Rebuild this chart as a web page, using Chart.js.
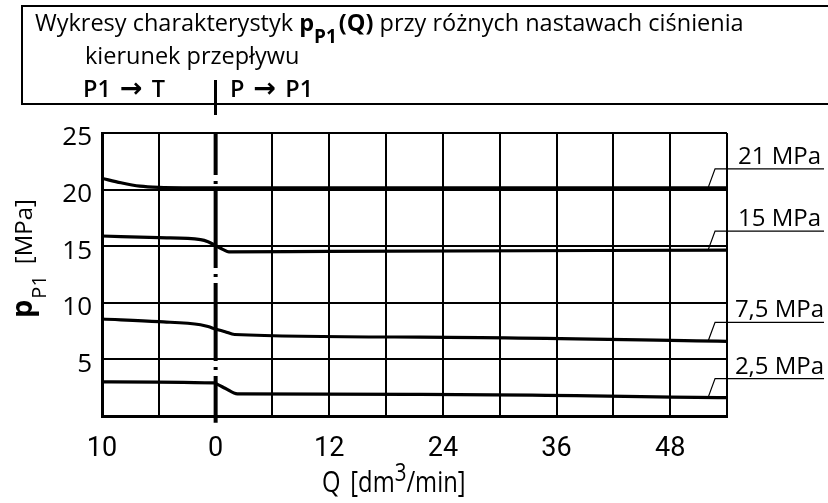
<!DOCTYPE html>
<html lang="pl">
<head>
<meta charset="utf-8">
<title>Wykresy charakterystyk pP1(Q)</title>
<script src="https://cdn.jsdelivr.net/npm/chart.js@4.4.1/dist/chart.umd.min.js"></script>
<style>
    html, body { margin: 0; padding: 0; background: #fff; }
    #wrap { position: relative; width: 828px; height: 503px; overflow: hidden; font-family: 'Open Sans', sans-serif; color: #000; }
    #chart { position: absolute; left: 0; top: 0; }
    #box { position: absolute; left: 21px; top: 5px; width: 820px; height: 100px; box-sizing: border-box; border: 2px solid #000; border-right: none; }
    .hl { position: absolute; white-space: nowrap; font-size: 23.5px; line-height: 24px; }
    .hl b { font-weight: 700; }
    .sub { position: relative; top: 12px; font-size: 19px; margin-right: 2px; }
    .arr { font-family: 'DejaVu Sans', sans-serif; font-size: 27px; font-weight: 700; margin: 0 3px; }
    #l1 { left: 35px; top: 10px; }
    #l2 { left: 85px; top: 43px; }
    #l3a { left: 83px; top: 76px; font-weight: 600; }
    #l3b { left: 230px; top: 76px; font-weight: 600; }
    #sep { position: absolute; left: 214px; top: 80px; width: 3px; height: 35px; background: #000; }
</style>
</head>
<body>
<div id="wrap">
    <canvas id="chart" width="828" height="503"></canvas>
    <div id="box"></div>
    <div class="hl" id="l1">Wykresy charakterystyk <b>p<span class="sub">P1</span>(Q)</b> przy różnych nastawach ciśnienia</div>
    <div class="hl" id="l2">kierunek przepływu</div>
    <div class="hl" id="l3a">P1 <span class="arr">→</span> T</div>
    <div id="sep"></div>
    <div class="hl" id="l3b">P <span class="arr">→</span> P1</div>
</div>
<script>
// x axis runs in grid units of 6; left of 0 is the P1 -> T side
const xTickValues = [-12, 0, 12, 24, 36, 48];
const xTickLabels = ['10', '0', '12', '24', '36', '48'];

const seriesLabels = ['21 MPa', '15 MPa', '7,5 MPa', '2,5 MPa'];

const q21 = [-12, -10, -8, -6, 0, 54];
const p21 = [21.0, 20.6, 20.3, 20.2, 20.15, 20.15];

const q15 = [-12, -6, -1.6, -0.8, 0, 0.8, 1.4, 12, 54];
const p15 = [15.9, 15.75, 15.58, 15.4, 15.05, 14.7, 14.5, 14.55, 14.65];

const q75 = [-12, -6, -1.6, -0.8, 0, 1, 2, 21.6, 54];
const p75 = [8.57, 8.33, 8.06, 7.9, 7.68, 7.45, 7.2, 6.97, 6.6];

const q25 = [-12, -0.2, 0.3, 1, 2.3, 21.6, 54];
const p25 = [3.02, 2.92, 2.75, 2.45, 1.95, 1.91, 1.62];

// dash-dot divider at Q = 0
const dividerQ = [0, 0];
const dividerP = [25, -0.6];

const leaderQ = 52;

const curves = [
    { q: q21, p: p21 },
    { q: q15, p: p15 },
    { q: q75, p: p75 },
    { q: q25, p: p25 }
];

function toPoints(qs, ps) {
    return qs.map((q, i) => ({ x: q, y: ps[i] }));
}

const pressureLabels = {
    id: 'pressureLabels',
    afterDatasetsDraw(chart) {
        const { ctx, scales: { x, y } } = chart;
        ctx.save();
        ctx.strokeStyle = '#000';
        ctx.fillStyle = '#000';
        ctx.lineWidth = 1.2;
        ctx.font = "24px 'Open Sans'";
        ctx.textAlign = 'center';
        ctx.textBaseline = 'alphabetic';
        const textX = (x.right + chart.width) / 2 + 2;
        curves.forEach((c, i) => {
            const px = x.getPixelForValue(leaderQ);
            const py = y.getPixelForValue(c.p[c.p.length - 1]);
            const ly = py - 19;
            ctx.beginPath();
            ctx.moveTo(px, py);
            ctx.lineTo(px + 7, ly);
            ctx.lineTo(chart.width - 4, ly);
            ctx.stroke();
            ctx.fillText(seriesLabels[i], textX, ly - 5);
        });
        ctx.restore();
    }
};

const axisTitles = {
    id: 'axisTitles',
    afterDraw(chart) {
        const { ctx, chartArea } = chart;
        ctx.save();
        ctx.fillStyle = '#000';
        ctx.textAlign = 'left';
        ctx.textBaseline = 'alphabetic';

        // y: p_P1 [MPa], rotated
        ctx.translate(chartArea.left - 70, chartArea.top + 185);
        ctx.rotate(-Math.PI / 2);
        ctx.font = "bold 29px 'Open Sans'";
        ctx.fillText('p', 0, 0);
        let w = ctx.measureText('p').width;
        ctx.font = "20px 'Open Sans'";
        ctx.fillText('P1', w + 1, 14);
        w += ctx.measureText('P1').width + 12;
        ctx.font = "24px 'Open Sans'";
        ctx.fillText('[MPa]', w, 0);
        ctx.restore();

        // x: Q [dm3/min], squeezed to match the condensed face
        ctx.save();
        ctx.fillStyle = '#000';
        ctx.textBaseline = 'alphabetic';
        ctx.translate(chartArea.left + 220, chartArea.bottom + 76);
        ctx.scale(0.82, 1);
        let tx = 0;
        ctx.font = "29px 'Open Sans'";
        ctx.fillText('Q', tx, 0);
        tx += ctx.measureText('Q').width + 12;
        ctx.fillText('[dm', tx, 0);
        tx += ctx.measureText('[dm').width;
        ctx.font = "25px 'Open Sans'";
        ctx.fillText('3', tx, -11);
        tx += ctx.measureText('3').width;
        ctx.font = "29px 'Open Sans'";
        ctx.fillText('/min]', tx, 0);
        ctx.restore();
    }
};

const lineStyle = {
    borderColor: '#000',
    borderWidth: 3.2,
    pointRadius: 0,
    fill: false,
    cubicInterpolationMode: 'monotone'
};

new Chart(document.getElementById('chart'), {
    type: 'line',
    data: {
        datasets: [
            ...curves.map((c, i) => ({ label: seriesLabels[i], data: toPoints(c.q, c.p), ...lineStyle })),
            {
                label: 'divider',
                data: toPoints(dividerQ, dividerP),
                borderColor: '#000',
                borderWidth: 4,
                borderDash: [78, 6, 3, 6],
                borderDashOffset: 36,
                pointRadius: 0,
                clip: false
            }
        ]
    },
    options: {
        responsive: false,
        animation: false,
        events: [],
        layout: { padding: { top: 133, right: 101, left: 0, bottom: 0 } },
        plugins: { legend: { display: false }, tooltip: { enabled: false } },
        scales: {
            x: {
                type: 'linear',
                min: -12,
                max: 54,
                afterFit: scale => { scale.height = 87; },
                ticks: {
                    stepSize: 6,
                    autoSkip: false,
                    maxRotation: 0,
                    padding: 17,
                    color: '#000',
                    font: { family: "'Roboto'", size: 27 },
                    callback: v => {
                        const i = xTickValues.indexOf(v);
                        return i >= 0 ? xTickLabels[i] : '';
                    }
                },
                grid: {
                    // no grid line under the dash-dot divider
                    color: c => (c.tick && c.tick.value === 0 ? 'rgba(0,0,0,0)' : '#000'),
                    lineWidth: 2,
                    drawTicks: false
                },
                border: { display: true, color: '#000', width: 3 }
            },
            y: {
                min: 0,
                max: 25,
                afterFit: scale => { scale.width = 102; },
                ticks: {
                    stepSize: 5,
                    padding: 10,
                    labelOffset: 5,
                    color: '#000',
                    font: { family: "'Open Sans'", size: 26 },
                    callback: v => (v === 0 ? '' : v)
                },
                grid: { color: '#000', lineWidth: 2, drawTicks: false },
                border: { display: true, color: '#000', width: 3 }
            }
        }
    },
    plugins: [pressureLabels, axisTitles]
});
</script>
</body>
</html>
